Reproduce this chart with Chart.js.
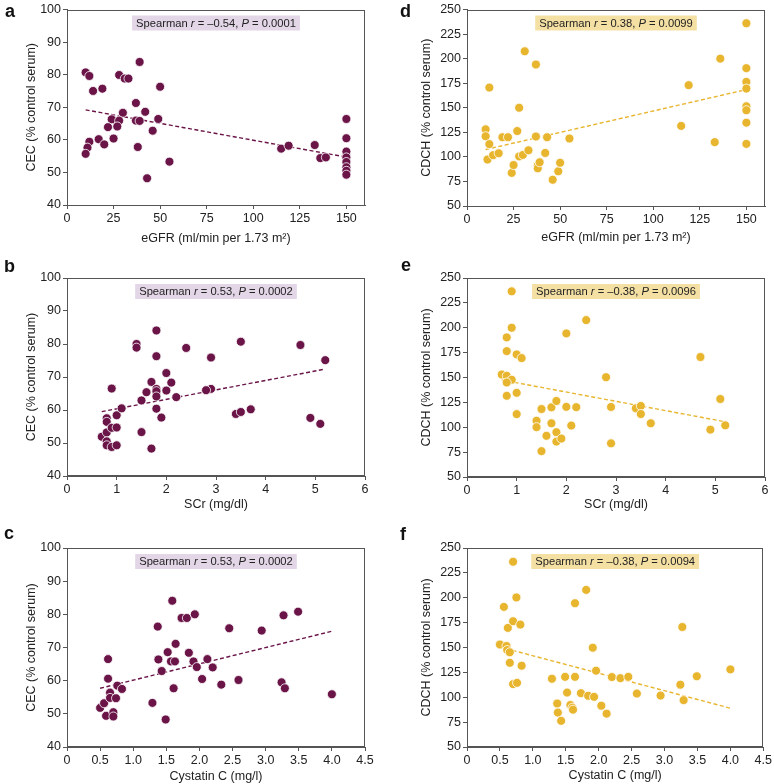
<!DOCTYPE html>
<html lang="en">
<head>
  <meta charset="UTF-8" />
  <title>CEC and CDCH vs kidney function</title>
  <script src="https://cdn.jsdelivr.net/npm/chart.js"></script>
  <style>
    body { margin: 0; background: #fff; }
    #wrap { position: relative; width: 774px; height: 784px; }
    .panel { position: absolute; }
  </style>
</head>
<body>
  <div id="wrap"></div>
  <script>
    // --- data ---
    // a: eGFR vs CEC
    const aX = [10, 12, 14, 19, 39, 28, 31, 33, 50, 37, 30, 42, 24, 28, 37, 39, 49, 22, 27, 46, 12, 17, 25, 20, 11, 38, 10, 55, 43, 115, 119, 133, 136, 139, 150, 150, 150, 150, 150, 150, 150, 150];
    const aY = [80.7, 79.6, 75.0, 75.7, 83.9, 79.9, 78.8, 78.8, 76.3, 71.3, 68.3, 68.6, 66.3, 65.9, 65.9, 65.8, 66.4, 63.9, 64.1, 62.8, 59.4, 60.2, 60.4, 58.6, 57.6, 57.8, 55.7, 53.3, 48.2, 57.3, 58.2, 58.4, 54.4, 54.6, 66.4, 60.5, 56.4, 54.6, 53.2, 51.6, 50.5, 49.3];
    const aFitX = [10, 150];
    const aFitY = [69.2, 54.7];

    // b: SCr vs CEC
    const bX = [0.7, 0.8, 0.8, 0.8, 0.8, 0.8, 0.9, 0.9, 0.9, 1.0, 1.0, 1.0, 1.1, 1.4, 1.4, 1.5, 1.5, 1.6, 1.7, 1.7, 1.8, 1.8, 1.8, 1.8, 1.8, 1.8, 1.9, 2.0, 2.0, 2.1, 2.2, 2.4, 2.9, 2.9, 2.8, 3.4, 3.5, 3.7, 3.5, 4.7, 4.9, 5.1, 5.2];
    const bY = [51.9, 53.2, 50.5, 49.3, 57.5, 56.4, 54.6, 48.8, 66.5, 58.4, 54.7, 49.3, 60.5, 80.0, 78.9, 62.9, 53.3, 65.4, 68.5, 48.3, 84.1, 76.3, 66.4, 65.7, 64.1, 60.4, 57.7, 71.2, 65.9, 68.3, 63.9, 78.8, 75.9, 66.4, 66.0, 58.8, 59.4, 60.2, 80.7, 79.7, 57.6, 55.8, 75.1];
    const bFitX = [0.7, 5.2];
    const bFitY = [59.5, 72.4];

    // c: Cystatin C vs CEC
    const cX = [0.5, 0.56, 0.59, 0.62, 0.62, 0.65, 0.65, 0.7, 0.7, 0.74, 0.76, 0.83, 1.29, 1.37, 1.38, 1.43, 1.49, 1.52, 1.59, 1.57, 1.63, 1.61, 1.64, 1.73, 1.81, 1.84, 1.93, 1.91, 1.96, 2.04, 2.12, 2.2, 2.33, 2.45, 2.59, 2.94, 3.24, 3.27, 3.29, 3.49, 4.0];
    const cY = [51.8, 53.2, 49.4, 66.5, 60.6, 56.4, 54.8, 50.5, 49.2, 54.7, 58.5, 57.5, 53.3, 76.3, 66.4, 62.9, 48.3, 68.6, 84.1, 65.8, 65.8, 57.7, 71.1, 78.9, 78.9, 68.4, 80.0, 65.8, 64.1, 60.5, 66.5, 64.0, 58.8, 75.8, 60.2, 75.1, 59.5, 79.7, 57.7, 80.8, 55.9];
    const cFitX = [0.5, 4.0];
    const cFitY = [57.7, 74.9];

    // d: eGFR vs CDCH
    const dX = [10, 10, 12, 12, 11, 14, 17, 19, 22, 24, 25, 31, 28, 27, 28, 30, 33, 37, 37, 38, 38, 39, 42, 43, 46, 49, 50, 55, 115, 119, 133, 136, 150, 150, 150, 150, 150, 150, 150, 150];
    const dY = [128, 121, 170.5, 113, 97.3, 101.7, 103.7, 120, 120, 83.7, 91.7, 207.5, 150, 126.3, 100.5, 102, 106.7, 194, 120.7, 91.3, 88.3, 94.5, 104, 120, 76.7, 85.3, 94, 118.7, 131.5, 173, 115, 200, 236, 190.3, 176.3, 169.5, 151.5, 147.5, 134.8, 113.2];
    const dFitX = [10, 150];
    const dFitY = [107.5, 168.5];

    // e: SCr vs CDCH
    const eX = [0.9, 0.9, 0.8, 0.8, 1.0, 1.1, 0.7, 0.8, 0.9, 0.8, 0.8, 1.0, 1.0, 1.4, 1.4, 1.5, 1.5, 1.6, 1.7, 1.7, 1.8, 1.8, 1.8, 1.9, 2.0, 2.0, 2.1, 2.2, 2.4, 2.8, 2.9, 2.9, 3.4, 3.5, 3.5, 3.7, 4.7, 4.9, 5.1, 5.2];
    const eY = [236.6, 200, 190.3, 176.5, 173.2, 169.5, 153, 151.7, 147.7, 145, 131.6, 134.6, 113.2, 106.5, 100.1, 118.3, 76, 91.4, 120, 104, 126.4, 95, 85.6, 88.6, 194.3, 120.5, 101.7, 120.2, 207.7, 150.3, 120.4, 83.8, 119, 121.4, 113.3, 104, 170.6, 97.6, 128.4, 101.9];
    const eFitX = [0.7, 5.2];
    const eFitY = [147.5, 105.5];

    // f: Cystatin C vs CDCH
    const fX = [0.5, 0.6, 0.61, 0.65, 0.65, 0.62, 0.56, 0.7, 0.7, 0.75, 0.81, 0.83, 0.7, 0.76, 1.29, 1.37, 1.38, 1.43, 1.49, 1.52, 1.57, 1.6, 1.61, 1.64, 1.64, 1.73, 1.81, 1.84, 1.91, 1.93, 1.96, 2.04, 2.12, 2.2, 2.33, 2.45, 2.58, 2.94, 3.24, 3.27, 3.29, 3.49, 4.0];
    const fY = [153, 151.5, 147.5, 145.2, 134.6, 169.7, 190.8, 176.4, 236.2, 200.3, 173, 131.7, 113.2, 114.5, 118.6, 93.7, 84.6, 76.3, 120.5, 104.7, 92.2, 89.5, 87.5, 120.5, 194.5, 104.1, 207.9, 101.5, 149.8, 100.4, 126.7, 91.5, 83.5, 120.3, 119.2, 120.5, 103.7, 101.7, 112.6, 170.6, 97.1, 121.1, 128];
    const fFitX = [0.5, 4.0];
    const fFitY = [150.5, 89];

    // tick labels
    const egfrTicks = [0, 25, 50, 75, 100, 125, 150];
    const scrTicks = [0, 1, 2, 3, 4, 5, 6];
    const cysTicks = [0, 0.5, 1, 1.5, 2, 2.5, 3, 3.5, 4, 4.5];
    const cecTicks = [40, 50, 60, 70, 80, 90, 100];
    const cdchTicks = [50, 75, 100, 125, 150, 175, 200, 225, 250];

    // Spearman r and P per panel
    const statR = ['–0.54', '0.53', '0.53', '0.38', '–0.38', '–0.38'];
    const statP = ['0.0001', '0.0002', '0.0002', '0.0099', '0.0096', '0.0094'];

    const PURPLE = '#6a1448';
    const YELLOW = '#e8b52e';
    const FONT = 'Arial, "Liberation Sans", sans-serif';
    Chart.defaults.font.family = FONT;
    Chart.defaults.color = '#222';

    const eGFRTitle = 'eGFR (ml/min per 1.73 m²)';
    const panels = [
      { letter: 'a', left: 0, top: 0, h: 260, plot: [67, 6, 365, 205], xs: aX, ys: aY, fx: aFitX, fy: aFitY, xt: egfrTicks, xmax: 160, yt: cecTicks, color: PURPLE, bg: '#e3d6e7', xTitle: eGFRTitle, yTitle: 'CEC (% control serum)', xTitleY: 239, lx: 5, ly: 17, s: 0 },
      { letter: 'b', left: 0, top: 260, h: 260, plot: [67, 278, 365, 476], xs: bX, ys: bY, fx: bFitX, fy: bFitY, xt: scrTicks, xmax: 6, yt: cecTicks, color: PURPLE, bg: '#e3d6e7', xTitle: 'SCr (mg/dl)', yTitle: 'CEC (% control serum)', xTitleY: 505, lx: 4, ly: 272, s: 1 },
      { letter: 'c', left: 0, top: 520, h: 264, plot: [67, 548, 365, 747], xs: cX, ys: cY, fx: cFitX, fy: cFitY, xt: cysTicks, xmax: 4.5, yt: cecTicks, color: PURPLE, bg: '#e3d6e7', xTitle: 'Cystatin C (mg/l)', yTitle: 'CEC (% control serum)', xTitleY: 777, lx: 4, ly: 539, s: 2 },
      { letter: 'd', left: 387, top: 0, h: 260, plot: [467, 6, 765, 206], xs: dX, ys: dY, fx: dFitX, fy: dFitY, xt: egfrTicks, xmax: 160, yt: cdchTicks, color: YELLOW, bg: '#f5e0a4', xTitle: eGFRTitle, yTitle: 'CDCH (% control serum)', xTitleY: 238, lx: 400, ly: 17, s: 3 },
      { letter: 'e', left: 387, top: 260, h: 260, plot: [467, 278, 765, 477], xs: eX, ys: eY, fx: eFitX, fy: eFitY, xt: scrTicks, xmax: 6, yt: cdchTicks, color: YELLOW, bg: '#f5e0a4', xTitle: 'SCr (mg/dl)', yTitle: 'CDCH (% control serum)', xTitleY: 505, lx: 401, ly: 271, s: 4 },
      { letter: 'f', left: 387, top: 520, h: 264, plot: [467, 548, 765, 747], xs: fX, ys: fY, fx: fFitX, fy: fFitY, xt: cysTicks, xmax: 4.5, yt: cdchTicks, color: YELLOW, bg: '#f5e0a4', xTitle: 'Cystatin C (mg/l)', yTitle: 'CDCH (% control serum)', xTitleY: 776, lx: 400, ly: 540, s: 5 }
    ];

    // frame, stats box and panel letter
    const decorPlugin = {
      id: 'decor',
      afterDraw(chart, args, o) {
        const { ctx, chartArea: a } = chart;
        ctx.save();
        ctx.strokeStyle = '#555';
        ctx.lineWidth = 1;
        ctx.strokeRect(Math.round(a.left) + 0.5, Math.round(a.top) + 0.5, Math.round(a.right - a.left) - 1, Math.round(a.bottom - a.top) - 1);

        const parts = [['Spearman ', false], ['r', true], [' = ' + o.r + ', ', false], ['P', true], [' = ' + o.p, false]];
        const fs = '11.2px ';
        let total = 0;
        parts.forEach(([t, it]) => { ctx.font = (it ? 'italic ' : '') + fs + FONT; total += ctx.measureText(t).width; });
        const bw = total + 8, bh = 15;
        const bx = (a.left + a.right) / 2 - bw / 2;
        const by = a.top + 6;
        ctx.fillStyle = o.bg;
        ctx.fillRect(bx, by, bw, bh);
        ctx.fillStyle = '#222';
        ctx.textBaseline = 'middle';
        let x = bx + 4;
        parts.forEach(([t, it]) => {
          ctx.font = (it ? 'italic ' : '') + fs + FONT;
          ctx.fillText(t, x, by + bh / 2 + 0.5);
          x += ctx.measureText(t).width;
        });

        ctx.font = 'bold 18px ' + FONT;
        ctx.textBaseline = 'alphabetic';
        ctx.fillStyle = '#111';
        ctx.fillText(o.letter, o.lx, o.ly);
        ctx.restore();
      }
    };

    function makePanel(p) {
      const w = 387;
      const [pl, pt, pr, pb] = p.plot;
      const div = document.createElement('div');
      div.className = 'panel';
      div.style.left = p.left + 'px';
      div.style.top = p.top + 'px';
      const canvas = document.createElement('canvas');
      canvas.width = w; canvas.height = p.h;
      canvas.style.width = w + 'px'; canvas.style.height = p.h + 'px';
      div.appendChild(canvas);
      document.getElementById('wrap').appendChild(div);

      const axisH = p.top + p.h - pb;
      const axisW = pl - p.left;
      const fmt = p.xt === cysTicks ? (v => v === 0 ? '0' : v.toFixed(1)) : (v => String(v));

      new Chart(canvas, {
        type: 'scatter',
        data: {
          datasets: [
            {
              data: p.xs.map((x, i) => ({ x, y: p.ys[i] })),
              backgroundColor: p.color,
              borderColor: '#fff',
              borderWidth: 0.8,
              pointRadius: 4.5
            },
            {
              data: p.fx.map((x, i) => ({ x, y: p.fy[i] })),
              showLine: true,
              borderColor: p.color,
              borderWidth: 1.4,
              borderDash: [4, 2.5],
              pointRadius: 0
            }
          ]
        },
        options: {
          responsive: false,
          animation: false,
          devicePixelRatio: 1,
          layout: { padding: { top: pt - p.top, right: p.left + w - pr, left: 0, bottom: 0 } },
          plugins: {
            legend: { display: false },
            tooltip: { enabled: false },
            decor: { r: statR[p.s], p: statP[p.s], bg: p.bg, letter: p.letter, lx: p.lx - p.left, ly: p.ly - p.top }
          },
          scales: {
            x: {
              type: 'linear',
              min: 0,
              max: p.xmax,
              afterBuildTicks: s => { s.ticks = p.xt.map(v => ({ value: v })); },
              afterFit: s => { s.height = axisH; },
              grid: { drawOnChartArea: false, color: '#555', tickLength: 4 },
              border: { color: '#555' },
              ticks: { autoSkip: false, maxRotation: 0, padding: 2, font: { size: 12.5 }, callback: fmt },
              title: {
                display: true, text: p.xTitle, font: { size: 12.5 },
                padding: { top: 0, bottom: (p.top + p.h) - p.xTitleY - 7.5 }
              }
            },
            y: {
              type: 'linear',
              min: p.yt[0],
              max: p.yt[p.yt.length - 1],
              afterBuildTicks: s => { s.ticks = p.yt.map(v => ({ value: v })); },
              afterFit: s => { s.width = axisW; },
              grid: { drawOnChartArea: false, color: '#555', tickLength: 4 },
              border: { color: '#555' },
              ticks: { autoSkip: false, padding: 2, font: { size: 12.5 } },
              title: {
                display: true, text: p.yTitle, font: { size: 12.5 },
                padding: { top: (p.left === 0 ? 32 : 40) - 7.5, bottom: 0 }
              }
            }
          }
        },
        plugins: [decorPlugin]
      });
    }

    panels.forEach(makePanel);
  </script>
</body>
</html>
